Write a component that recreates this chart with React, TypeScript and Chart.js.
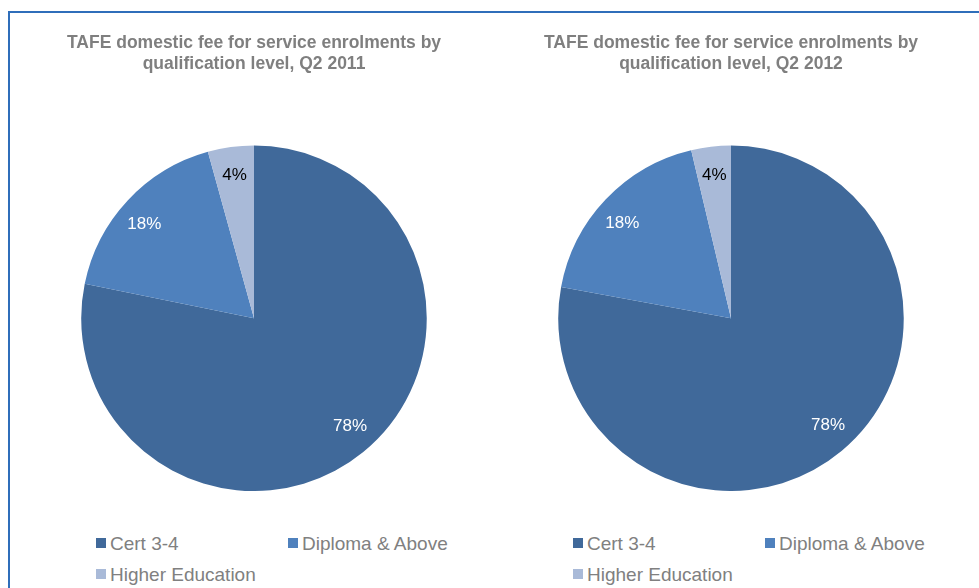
import React, { useEffect, useRef } from "react";
import { Chart, registerables } from "chart.js";

Chart.register(...registerables);

const categories = ["Cert 3-4", "Diploma & Above", "Higher Education"];
const values2011 = [78.2, 17.5, 4.3];
const values2012 = [77.9, 18.4, 3.7];
const pctLabels2011 = ["78%", "18%", "4%"];
const pctLabels2012 = ["78%", "18%", "4%"];
const title2011 = ["TAFE domestic fee for service enrolments by", "qualification level, Q2 2011"];
const title2012 = ["TAFE domestic fee for service enrolments by", "qualification level, Q2 2012"];

const sliceColors = ["#40699A", "#4F81BD", "#A9BAD8"];
const pctLabelColors = ["#FFFFFF", "#FFFFFF", "#000000"];
const labelAngleShiftDeg = [-2.5, -2.5, 0];
const FONT = '"Liberation Sans", Arial, sans-serif';

const pieLabelPlugin = {
  id: "pieLabels",
  afterDatasetsDraw(chart: any, _args: any, opts: any) {
    const ctx = chart.ctx;
    const meta = chart.getDatasetMeta(0);
    const texts: string[] = opts.texts || [];
    ctx.save();
    ctx.font = `17px ${FONT}`;
    ctx.textAlign = "center";
    ctx.textBaseline = "middle";
    meta.data.forEach((arc: any, i: number) => {
      const p = arc.getProps(["x", "y", "startAngle", "endAngle", "outerRadius"], true);
      const mid = (p.startAngle + p.endAngle) / 2 + (labelAngleShiftDeg[i] * Math.PI) / 180;
      const r = p.outerRadius * 0.835;
      ctx.fillStyle = pctLabelColors[i];
      ctx.fillText(texts[i], p.x + Math.cos(mid) * r, p.y + Math.sin(mid) * r);
    });
    ctx.restore();
  },
};

function PieBlock(props: { cx: number; values: number[]; texts: string[]; title: string[] }) {
  const ref = useRef<HTMLCanvasElement | null>(null);
  const W = 470;
  const H = 477;
  useEffect(() => {
    if (!ref.current) return;
    const chart = new Chart(ref.current, {
      type: "pie",
      data: {
        labels: categories,
        datasets: [
          {
            data: props.values,
            backgroundColor: sliceColors,
            borderWidth: 0,
          },
        ],
      },
      options: {
        responsive: false,
        animation: false,
        events: [],
        layout: { padding: 0 },
        plugins: {
          legend: { display: false },
          tooltip: { enabled: false },
          title: {
            display: true,
            text: props.title,
            color: "#7F7F7F",
            font: { family: FONT, size: 17.5, weight: "bold", lineHeight: 21 / 17.5 },
            padding: { top: 19, bottom: 70.5 },
          },
          pieLabels: { texts: props.texts },
        } as any,
      },
      plugins: [pieLabelPlugin],
    });
    return () => chart.destroy();
  }, []);

  const legendLeft = props.cx - 158;
  const legendCols = [legendLeft, legendLeft + 192, legendLeft];
  const legendTops = [534, 534, 565];
  return (
    <>
      <canvas
        ref={ref}
        width={W}
        height={H}
        style={{ position: "absolute", left: props.cx - W / 2, top: 14, width: W, height: H }}
      />
      {categories.map((c, i) => (
        <div
          key={c}
          style={{
            position: "absolute",
            left: legendCols[i],
            top: legendTops[i],
            height: 19,
            whiteSpace: "nowrap",
            fontFamily: FONT,
            fontSize: 19,
            lineHeight: "19px",
            color: "#808080",
          }}
        >
          <span
            style={{
              position: "absolute",
              left: 0,
              top: 4,
              width: 10,
              height: 10,
              background: sliceColors[i],
            }}
          />
          <span style={{ position: "absolute", left: 14, top: 0 }}>{c}</span>
        </div>
      ))}
    </>
  );
}

export default function App() {
  return (
    <div
      style={{
        position: "absolute",
        left: 0,
        top: 0,
        width: 979,
        height: 588,
        overflow: "hidden",
        background: "#FFFFFF",
      }}
    >
      <div
        style={{
          position: "absolute",
          left: 8,
          top: 11,
          width: 1000,
          height: 700,
          borderTop: "2px solid #2F6EBA",
          borderLeft: "2px solid #2F6EBA",
        }}
      />
      <PieBlock cx={254} values={values2011} texts={pctLabels2011} title={title2011} />
      <PieBlock cx={731} values={values2012} texts={pctLabels2012} title={title2012} />
    </div>
  );
}
